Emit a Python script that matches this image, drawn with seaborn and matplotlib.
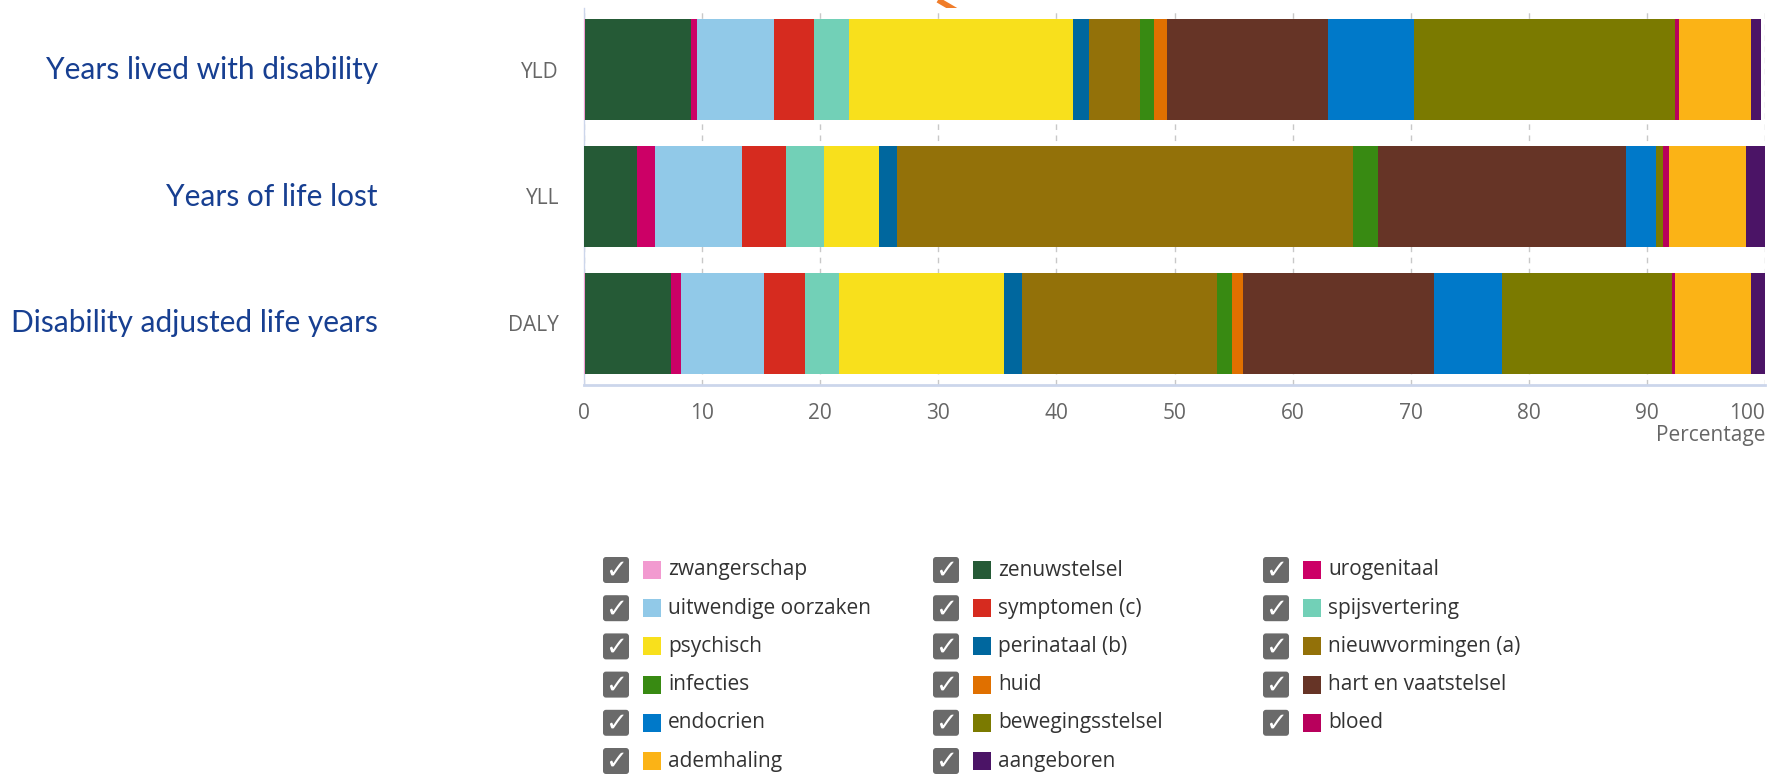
import numpy as np
import pandas as pd
import seaborn as sns
import matplotlib.pyplot as plt
from matplotlib import transforms
from matplotlib.patches import FancyBboxPatch, Rectangle

# --- data (percent share per disease group) ---
measures = ["YLD", "YLL", "DALY"]
measure_names = ["Years lived with disability", "Years of life lost",
                 "Disability adjusted life years"]
groups = ["zwangerschap", "zenuwstelsel", "urogenitaal",
          "uitwendige oorzaken", "symptomen (c)", "spijsvertering",
          "psychisch", "perinataal (b)", "nieuwvormingen (a)",
          "infecties", "huid", "hart en vaatstelsel",
          "endocrien", "bewegingsstelsel", "bloed",
          "ademhaling", "aangeboren"]
colors = ["#f29ad0", "#255a36", "#cc0066",
          "#91c9e8", "#d62b1f", "#72d0b7",
          "#f8e01c", "#00679e", "#937109",
          "#388a12", "#e07000", "#663426",
          "#0079c9", "#7b7a00", "#b8005c",
          "#fbb316", "#4b1466"]
yld = [0.05, 9.05, 0.5, 6.5, 3.4, 2.9, 19.0, 1.4, 4.3, 1.2, 1.1, 13.6, 7.3, 22.1, 0.3, 6.1, 0.9]
yll = [0.0, 4.5, 1.5, 7.4, 3.7, 3.2, 4.7, 1.5, 38.6, 2.1, 0.05, 21.0, 2.5, 0.6, 0.5, 6.5, 1.65]
daly = [0.05, 7.35, 0.8, 7.0, 3.5, 2.9, 14.0, 1.5, 16.5, 1.3, 0.9, 16.2, 5.7, 14.4, 0.3, 6.4, 1.2]
xticks = [0, 10, 20, 30, 40, 50, 60, 70, 80, 90, 100]

rows = []
for m, vals in zip(measures, [yld, yll, daly]):
    for g, v in zip(groups, vals):
        rows.append({"measure": m, "group": g, "value": v})
df = pd.DataFrame(rows)
df["cum"] = df.groupby("measure")["value"].cumsum()

sns.set_style("white")
plt.rcParams['font.family'] = ['Open Sans', 'DejaVu Sans']

W, H = 1770, 774
fig = plt.figure(figsize=(W / 100, H / 100), dpi=100)
ax = fig.add_axes([584 / W, 1 - 385 / H, (1765 - 584) / W, (385 - 8) / H])

# stacked bars: draw cumulative totals from the last group back to the first
for i in reversed(range(len(groups))):
    sub = df[df["group"] == groups[i]]
    sns.barplot(data=sub, x="cum", y="measure", order=measures, color=colors[i],
                saturation=1, width=0.8, errorbar=None, linewidth=0,
                edgecolor="none", ax=ax, zorder=3)

ax.set_xlim(0, 100)
ax.set_ylim(2.485, -0.485)
ax.set_xticks(xticks)
ax.set_xticklabels([str(t) for t in xticks], fontsize=15, color="#666666")
ax.get_xticklabels()[-1].set_horizontalalignment("right")
ax.tick_params(axis="x", length=0, pad=13)
ax.tick_params(axis="y", length=0, pad=18, labelsize=15, labelcolor="#666666")
ax.set_xlabel("")
ax.set_ylabel("")
ax.grid(axis="x", color="#c8c8c8", linestyle=(0, (4, 4)), linewidth=1, zorder=0)
ax.grid(axis="y", visible=False)
for s in ["top", "right"]:
    ax.spines[s].set_visible(False)
ax.spines["left"].set_color("#ccd6eb")
ax.spines["left"].set_linewidth(1)
ax.spines["bottom"].set_color("#ccd6eb")
ax.spines["bottom"].set_linewidth(2)
ax.text(1.0, -0.135, "Percentage", transform=ax.transAxes, ha="right", va="center",
        fontsize=15, color="#666666")

# long names left of the chart
trans = transforms.blended_transform_factory(fig.transFigure, ax.transData)
for i, name in enumerate(measure_names):
    ax.text(378 / W, i, name, transform=trans, ha="right", va="center",
            fontsize=21.5, color="#173f91", family=["Lato", "DejaVu Sans"])

# legend with check boxes, laid out in pixel coordinates
lax = fig.add_axes([0, 0, 1, 1], zorder=-1)
lax.set_xlim(0, W)
lax.set_ylim(H, 0)
lax.axis("off")
for i, (g, c) in enumerate(zip(groups, colors)):
    col, row = i % 3, i // 3
    x = 616 + col * 330
    y = 570 + row * 38.2
    lax.add_patch(FancyBboxPatch((x - 13, y - 13), 26, 26,
                                 boxstyle="round,pad=0,rounding_size=3",
                                 fc="#6a6a6a", ec="none"))
    lax.text(x, y + 1, "\u2713", ha="center", va="center", color="white",
             fontsize=19, fontweight="bold", family="DejaVu Sans")
    lax.add_patch(Rectangle((x + 27, y - 9), 18, 18, fc=c, ec="none"))
    lax.text(x + 52, y, g, ha="left", va="center", fontsize=15, color="#333333")

# piece of an orange arrow at the top edge
lax.plot([938, 962], [0, 14], color="#f07d2a", lw=4, solid_capstyle="butt")

fig.savefig("out.png", dpi=100)
